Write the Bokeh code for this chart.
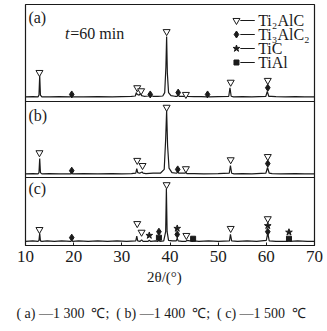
from bokeh.plotting import figure
from bokeh.models import Range1d, Span, FixedTicker, LinearAxis
from bokeh.core.properties import value
from bokeh.embed import file_html
from bokeh.resources import INLINE

# ---------------- data ----------------
x_ticks = [10, 20, 30, 40, 50, 60, 70]

# XRD patterns: 2theta (deg) and relative intensity (% of strongest peak)
a_2theta = [10.0, 11.5, 12.6, 12.8, 12.95, 13.1, 13.4, 15.0, 17.0, 19.3, 19.5, 19.7, 22.0, 25.0, 28.0,
            30.0, 32.0, 32.8, 33.0, 33.2, 33.6, 33.9, 34.1, 34.6, 35.5, 36.0, 36.5, 37.5, 38.5,
            38.9, 39.15, 39.3, 39.45, 39.7, 40.2, 41.0, 41.5, 41.7, 41.9, 42.5, 43.2, 43.4, 43.6,
            45.0, 46.5, 47.7, 47.9, 48.1, 50.0, 52.2, 52.45, 52.7, 53.2, 55.0, 57.0, 59.9, 60.2,
            60.5, 61.0, 62.0, 64.0, 66.0, 68.0, 70.0]
a_int = [1, 1.5, 1, 4, 36, 4, 1, 1, 1.5, 1, 3, 1, 1, 1.5, 1,
         1.5, 2, 2.5, 8, 5, 4, 7, 3, 2, 2.5, 3, 2, 2, 2.5,
         8, 50, 100, 40, 8, 3, 2, 2, 5, 2, 2, 2, 4, 2,
         1.5, 1.5, 1, 3, 1, 1.5, 2, 16, 2, 1, 1.5, 1, 2, 10,
         2, 2, 1.5, 1, 1.5, 1, 1]

b_2theta = [10.0, 11.5, 12.6, 12.8, 12.95, 13.1, 13.4, 15.0, 17.0, 19.4, 19.6, 19.8, 22.0, 25.0, 28.0,
            30.0, 32.0, 32.9, 33.1, 33.3, 33.7, 34.2, 34.4, 35.0, 36.5, 38.0,
            38.8, 39.1, 39.3, 39.5, 39.8, 40.4, 41.4, 41.6, 41.8, 43.1, 43.3, 43.5,
            45.0, 47.0, 50.0, 52.3, 52.55, 52.8, 53.3, 55.0, 57.0, 59.9, 60.25,
            60.6, 61.2, 63.0, 66.0, 68.0, 70.0]
b_int = [1, 1.5, 1, 3, 25, 3, 1, 1.5, 1, 1, 2.5, 1, 1.5, 1, 1.5,
         1, 1.5, 2, 9, 3, 2, 4, 2, 1.5, 2, 2,
         8, 55, 100, 45, 10, 3, 2, 4, 2, 2, 3.5, 1.5,
         1.5, 1, 1.5, 2, 14, 2, 1, 1.5, 1, 2, 11,
         2, 1.5, 1, 1.5, 1, 1]

c_2theta = [10.0, 11.5, 12.6, 12.8, 12.95, 13.1, 13.4, 14.5, 16.0, 17.5, 19.4, 19.6, 19.8, 21.0,
            23.0, 25.0, 27.0, 29.0, 31.0, 32.9, 33.1, 33.3, 33.8, 34.1, 34.4, 35.4, 35.7, 36.0,
            37.0, 37.5, 37.7, 37.9, 38.7, 39.1, 39.25, 39.4, 39.7, 40.5, 41.3, 41.5, 41.7,
            42.5, 43.3, 43.5, 44.7, 44.9, 46.0, 48.0, 50.0, 52.35, 52.55, 52.8, 54.0, 56.0,
            58.0, 60.0, 60.3, 60.6, 62.0, 64.5, 64.7, 64.9, 66.5, 68.5, 70.0]
c_int = [2, 3, 2, 4, 17, 3, 2, 3, 2, 3, 2, 4, 2, 3,
         2, 3, 2, 3, 2, 3, 12, 3, 2, 5, 2, 2, 4, 2,
         3, 2, 5, 2, 3, 20, 100, 20, 4, 3, 3, 8, 3,
         2, 2, 4, 2, 3, 2, 3, 2, 3, 15, 3, 2, 3,
         2, 4, 18, 3, 2, 2, 5, 2, 3, 2, 2]

# phase markers: 2theta, height (% of strongest peak), phase
a_mk_x = [12.9, 19.6, 33.2, 34.0, 35.9, 39.3, 41.7, 43.3, 47.8, 52.6, 60.3, 60.3]
a_mk_y = [41, 5, 16, 11, 5, 108, 8, 5, 5, 25, 28, 16]
a_mk_p = ["Ti2AlC", "Ti3AlC2", "Ti2AlC", "Ti2AlC", "Ti3AlC2", "Ti2AlC", "Ti3AlC2", "Ti2AlC",
          "Ti3AlC2", "Ti2AlC", "Ti2AlC", "Ti3AlC2"]

b_mk_x = [12.9, 19.6, 33.2, 34.3, 39.3, 41.6, 43.3, 52.6, 60.3, 60.3]
b_mk_y = [34, 6, 22, 14, 105, 8, 9, 23, 28, 17]
b_mk_p = ["Ti2AlC", "Ti3AlC2", "Ti2AlC", "Ti2AlC", "Ti2AlC", "Ti3AlC2", "Ti2AlC", "Ti2AlC",
          "Ti2AlC", "Ti3AlC2"]

c_mk_x = [12.9, 19.6, 33.2, 34.1, 35.7, 37.7, 37.7, 39.3, 41.5, 41.5, 43.4, 44.8, 52.6,
          60.3, 60.3, 60.3, 64.7, 64.7]
c_mk_y = [24, 9, 35, 19, 13, 20, 9, 107, 26, 15, 13, 7, 26, 44, 31, 20, 19, 7]
c_mk_p = ["Ti2AlC", "Ti3AlC2", "Ti2AlC", "Ti2AlC", "TiC", "Ti3AlC2", "TiAl", "Ti2AlC", "TiC",
          "Ti3AlC2", "Ti2AlC", "TiAl", "Ti2AlC", "Ti2AlC", "TiC", "Ti3AlC2", "TiC", "TiAl"]

phases = ["Ti2AlC", "Ti3AlC2", "TiC", "TiAl"]
phase_labels = ["Ti\u2082AlC", "Ti\u2083AlC\u2082", "TiC", "TiAl"]
panel_labels = ["(a)", "(b)", "(c)"]
NB = "\u00a0"
x_label = "2\u03b8/(\u00b0)" + NB * 3
caption = ("(" + NB + "a)" + NB + "\u20141" + NB + "300" + NB * 2 + "\u2103;" + NB * 2 +
           "(" + NB + "b)" + NB + "\u20141" + NB + "400" + NB * 2 + "\u2103;" + NB * 2 +
           "(" + NB + "c)" + NB + "\u20141" + NB + "500" + NB * 2 + "\u2103" + NB * 5)

# ---------------- styling / layout ----------------
FONT = "Liberation Serif"
INK = "#1a1a1a"
marker_style = {
    "Ti2AlC": dict(marker="inverted_triangle", size=7, fill_color="white", line_color=INK, line_width=1),
    "Ti3AlC2": dict(marker="diamond", size=7, fill_color=INK, line_color=INK, line_width=1),
    "TiC": dict(marker="star", size=7, fill_color=INK, line_color=INK, line_width=1),
    "TiAl": dict(marker="square", size=5, fill_color=INK, line_color=INK, line_width=1),
}

p = figure(width=327, height=331, output_backend="svg", toolbar_location=None,
           x_range=Range1d(10, 70), y_range=Range1d(0, 241),
           min_border_left=25, min_border_right=13, min_border_top=4, min_border_bottom=86)
p.outline_line_color = INK
p.outline_line_width = 1.2
p.xgrid.visible = False
p.ygrid.visible = False
p.yaxis.visible = False
p.background_fill_color = "white"
p.border_fill_color = "white"

ax = p.xaxis[0]
ax.ticker = FixedTicker(ticks=x_ticks)
ax.minor_tick_line_color = None
ax.major_tick_in = 3
ax.major_tick_out = 0
ax.axis_line_color = INK
ax.major_tick_line_color = INK
ax.major_label_text_font = FONT
ax.major_label_text_font_size = "17px"
ax.major_label_text_color = INK
ax.major_label_standoff = 5
ax.axis_label = x_label
ax.axis_label_text_font = FONT
ax.axis_label_text_font_style = "normal"
ax.axis_label_text_font_size = "15px"
ax.axis_label_text_color = INK
ax.axis_label_standoff = 4

cap = LinearAxis(ticker=FixedTicker(ticks=[]), axis_line_color=None,
                 major_tick_line_color=None, minor_tick_line_color=None,
                 major_label_text_font_size="0px", major_label_standoff=0,
                 axis_label=caption, axis_label_text_font=FONT,
                 axis_label_text_font_style="normal", axis_label_text_font_size="14px",
                 axis_label_text_color=INK, axis_label_standoff=18)
p.add_layout(cap, "below")

panels = [
    (a_2theta, a_int, a_mk_x, a_mk_y, a_mk_p, 148, 61),
    (b_2theta, b_int, b_mk_x, b_mk_y, b_mk_p, 71, 64),
    (c_2theta, c_int, c_mk_x, c_mk_y, c_mk_p, 3, 54),
]
for tt, inten, mx, my, mp, base, scale in panels:
    p.line(tt, [base + scale * v / 100 for v in inten], line_color=INK, line_width=1.2)
    for ph in phases:
        xs = [x for x, q in zip(mx, mp) if q == ph]
        ys = [base + scale * y / 100 for y, q in zip(my, mp) if q == ph]
        if xs:
            p.scatter(xs, ys, **marker_style[ph])

# panel separators
for loc in (144, 68):
    p.add_layout(Span(location=loc, dimension="width", line_color=INK, line_width=1.2))

# panel labels
for lab, y in zip(panel_labels, (228, 130, 57)):
    p.text([10.6], [y], text=[lab], text_font=value(FONT), text_font_size="16px",
           text_color=INK, text_baseline="middle", text_align="left")
p.text([18.2], [212], text=["t"], text_font=value(FONT), text_font_style="italic",
       text_font_size="16px", text_color=INK, text_baseline="middle")
p.text([19.3], [212], text=["=60 min"], text_font=value(FONT),
       text_font_size="16px", text_color=INK, text_baseline="middle")

# legend (manual)
for i, (ph, lab) in enumerate(zip(phases, phase_labels)):
    y = 225 - 14 * i
    st = dict(marker_style[ph])
    p.scatter([53.8], [y], **st)
    p.line([54.6, 57.6], [y, y], line_color=INK, line_width=1)
    p.text([58.3], [y], text=[lab], text_font=value(FONT), text_font_size="16px",
           text_color=INK, text_baseline="middle")

open("out.html", "w").write(file_html(p, INLINE))
